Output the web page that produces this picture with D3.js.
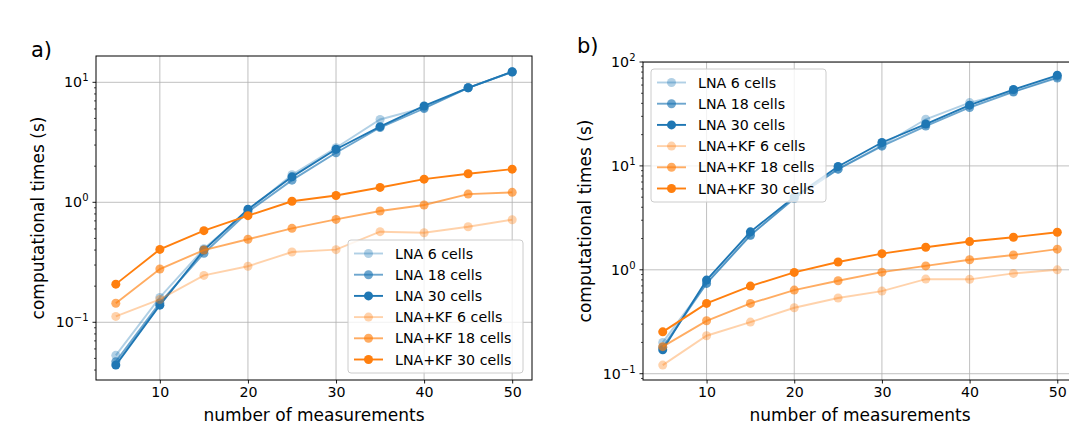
<!DOCTYPE html>
<html>
<head>
<meta charset="UTF-8">
<script src="https://cdn.jsdelivr.net/npm/d3@7"></script>
<style>
  body { margin: 0; background: white; }
  svg { font-family: "DejaVu Sans", sans-serif; }
  .grid line { stroke: #b0b0b0; stroke-width: 0.8; }
</style>
</head>
<body>
<script>
// number of measurements (x values, shared)
var measurements = [5, 10, 15, 20, 25, 30, 35, 40, 45, 50];

var seriesNames = ["LNA 6 cells", "LNA 18 cells", "LNA 30 cells",
                   "LNA+KF 6 cells", "LNA+KF 18 cells", "LNA+KF 30 cells"];

// panel a) computational times (s)
var aLNA6    = [0.053, 0.161, 0.41, 0.85, 1.70, 2.85, 4.90, 6.15, 9.0, 12.2];
var aLNA18   = [0.047, 0.145, 0.376, 0.83, 1.53, 2.59, 4.20, 6.05, 9.0, 12.2];
var aLNA30   = [0.044, 0.139, 0.40, 0.875, 1.63, 2.77, 4.27, 6.35, 9.0, 12.25];
var aKF6     = [0.112, 0.155, 0.246, 0.293, 0.385, 0.403, 0.569, 0.558, 0.626, 0.716];
var aKF18    = [0.144, 0.278, 0.40, 0.492, 0.607, 0.72, 0.846, 0.95, 1.17, 1.21];
var aKF30    = [0.208, 0.405, 0.58, 0.774, 1.02, 1.14, 1.33, 1.56, 1.73, 1.89];

// panel b)
var bLNA6    = [0.20, 0.74, 2.15, 4.9, 9.3, 15.8, 28.1, 40.7, 52.0, 72.0];
var bLNA18   = [0.18, 0.74, 2.15, 4.85, 9.3, 15.5, 24.2, 36.5, 51.5, 70.2];
var bLNA30   = [0.17, 0.796, 2.32, 5.03, 9.87, 16.8, 25.3, 38.4, 54.3, 74.5];
var bKF6     = [0.121, 0.232, 0.314, 0.431, 0.535, 0.624, 0.814, 0.81, 0.923, 1.0];
var bKF18    = [0.182, 0.323, 0.475, 0.638, 0.784, 0.95, 1.09, 1.25, 1.39, 1.58];
var bKF30    = [0.253, 0.475, 0.697, 0.944, 1.19, 1.43, 1.65, 1.87, 2.06, 2.30];

var xTicks = [10, 20, 30, 40, 50];
var aYTicks = [-1, 0, 1];      // exponents
var bYTicks = [-1, 0, 1, 2];

var blue = "#1f77b4", orange = "#ff7f0e";
var seriesColor = [blue, blue, blue, orange, orange, orange];
var seriesAlpha = [0.35, 0.65, 1, 0.35, 0.65, 1];

var svg = d3.select("body").append("svg")
  .attr("width", 1069)
  .attr("height", 439);

function drawPanel(p) {
  var x = d3.scaleLinear().domain([2.75, 52.25]).range([p.left, p.right]);
  var y = d3.scaleLog().domain(p.yDomain).range([p.bottom, p.top]);

  var g = svg.append("g");
  var clipId = "clip-" + p.name;
  g.append("clipPath").attr("id", clipId)
    .append("rect")
    .attr("x", p.left).attr("y", p.top)
    .attr("width", p.right - p.left).attr("height", p.bottom - p.top);

  // grid
  var grid = g.append("g").attr("class", "grid").attr("clip-path", "url(#" + clipId + ")");
  grid.selectAll(".gx").data(xTicks).enter().append("line")
    .attr("x1", function(d) { return x(d); }).attr("x2", function(d) { return x(d); })
    .attr("y1", p.top).attr("y2", p.bottom);
  grid.selectAll(".gy").data(p.yTicks).enter().append("line")
    .attr("x1", p.left).attr("x2", p.right)
    .attr("y1", function(d) { return y(Math.pow(10, d)); })
    .attr("y2", function(d) { return y(Math.pow(10, d)); });

  // series
  var line = d3.line()
    .x(function(d, i) { return x(measurements[i]); })
    .y(function(d) { return y(d); });

  var plot = g.append("g").attr("clip-path", "url(#" + clipId + ")");
  p.series.forEach(function(vals, k) {
    plot.append("path")
      .attr("d", line(vals))
      .attr("fill", "none")
      .attr("stroke", seriesColor[k])
      .attr("stroke-opacity", seriesAlpha[k])
      .attr("stroke-width", 1.9);
    plot.selectAll(null).data(vals).enter().append("circle")
      .attr("cx", function(d, i) { return x(measurements[i]); })
      .attr("cy", function(d) { return y(d); })
      .attr("r", 4.5)
      .attr("fill", seriesColor[k])
      .attr("fill-opacity", seriesAlpha[k]);
  });

  // x axis
  var xAxis = d3.axisBottom(x).tickValues(xTicks).tickSize(3.5).tickPadding(3.5);
  var gx = g.append("g").attr("transform", "translate(0," + p.bottom + ")").call(xAxis);
  gx.select(".domain").remove();
  gx.selectAll("text").attr("font-size", 14.2).attr("fill", "#000")
    .attr("font-family", "DejaVu Sans");
  gx.selectAll("line").attr("stroke", "#000").attr("stroke-width", 0.9);

  // y minor ticks
  var minors = [];
  var lo = Math.floor(Math.log10(p.yDomain[0])), hi = Math.ceil(Math.log10(p.yDomain[1]));
  for (var e = lo; e < hi; e++) {
    for (var m = 2; m <= 9; m++) {
      var v = m * Math.pow(10, e);
      if (v >= p.yDomain[0] && v <= p.yDomain[1]) minors.push(v);
    }
  }
  g.selectAll(null).data(minors).enter().append("line")
    .attr("x1", p.left - 2).attr("x2", p.left)
    .attr("y1", function(d) { return y(d); }).attr("y2", function(d) { return y(d); })
    .attr("stroke", "#000").attr("stroke-width", 0.7);

  // y major ticks with 10^n labels
  var yt = g.selectAll(null).data(p.yTicks).enter().append("g")
    .attr("transform", function(d) { return "translate(0," + y(Math.pow(10, d)) + ")"; });
  yt.append("line").attr("x1", p.left - 3.5).attr("x2", p.left)
    .attr("stroke", "#000").attr("stroke-width", 0.9);
  var lab = yt.append("text")
    .attr("x", p.left - 7.5).attr("y", 5)
    .attr("text-anchor", "end").attr("font-size", 14.2).attr("fill", "#000");
  lab.append("tspan").text("10");
  lab.append("tspan").attr("dy", -6).attr("font-size", 10)
    .text(function(d) { return d < 0 ? "\u2212" + (-d) : d; });

  // frame
  g.append("rect")
    .attr("x", p.left).attr("y", p.top)
    .attr("width", p.right - p.left).attr("height", p.bottom - p.top)
    .attr("fill", "none").attr("stroke", "#000").attr("stroke-width", 1);

  // axis labels
  g.append("text")
    .attr("x", (p.left + p.right) / 2)
    .attr("y", 421)
    .attr("text-anchor", "middle").attr("font-size", 17)
    .text("number of measurements");
  g.append("text")
    .attr("transform", "translate(" + (p.left - 52) + "," + ((p.top + p.bottom) / 2) + ") rotate(-90)")
    .attr("text-anchor", "middle").attr("font-size", 17)
    .text("computational times (s)");

  // panel letter
  g.append("text").attr("x", p.letterX).attr("y", p.letterY)
    .attr("font-size", 21).text(p.name + ")");

  // legend
  var lg = g.append("g").attr("transform", "translate(" + p.legX + "," + p.legY + ")");
  lg.append("rect")
    .attr("width", 175).attr("height", 133).attr("rx", 3)
    .attr("fill", "#fff").attr("fill-opacity", 0.8)
    .attr("stroke", "#ccc").attr("stroke-width", 1);
  seriesNames.forEach(function(name, k) {
    var ly = 13.5 + k * 21.2;
    lg.append("line").attr("x1", 6).attr("x2", 35).attr("y1", ly).attr("y2", ly)
      .attr("stroke", seriesColor[k]).attr("stroke-opacity", seriesAlpha[k]).attr("stroke-width", 1.9);
    lg.append("circle").attr("cx", 20.5).attr("cy", ly).attr("r", 4.5)
      .attr("fill", seriesColor[k]).attr("fill-opacity", seriesAlpha[k]);
    lg.append("text").attr("x", 47).attr("y", ly + 5)
      .attr("font-size", 14.2).text(name);
  });
}

drawPanel({
  name: "a", left: 96, right: 532, top: 56, bottom: 380,
  yDomain: [0.03304, 16.57], yTicks: aYTicks,
  series: [aLNA6, aLNA18, aLNA30, aKF6, aKF18, aKF30],
  legX: 348, legY: 240, letterX: 31, letterY: 57
});

drawPanel({
  name: "b", left: 643, right: 1077, top: 62, bottom: 380,
  yDomain: [0.087, 100], yTicks: bYTicks,
  series: [bLNA6, bLNA18, bLNA30, bKF6, bKF18, bKF30],
  legX: 651, legY: 69, letterX: 577, letterY: 53
});
</script>
</body>
</html>
